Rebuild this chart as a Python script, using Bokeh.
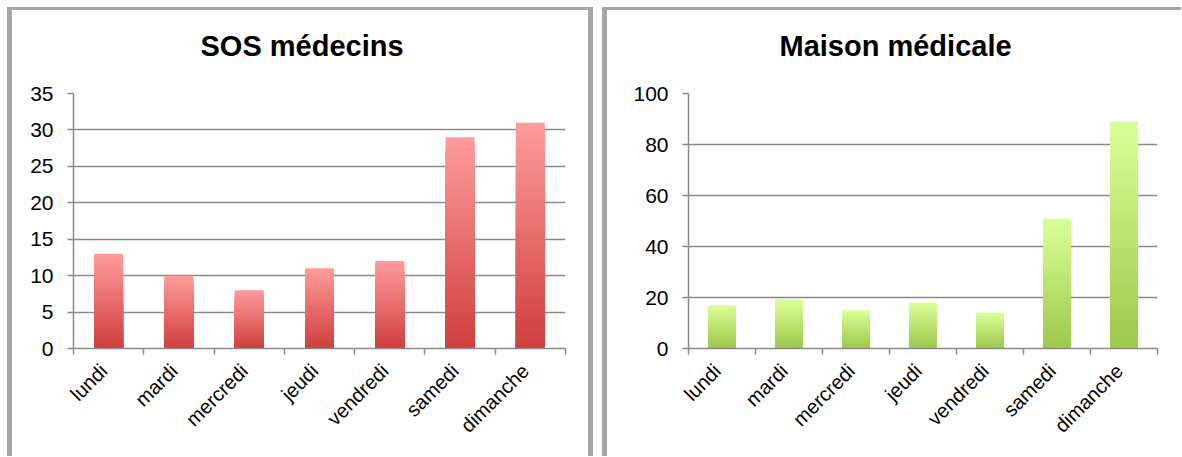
import math
from bokeh.plotting import figure
from bokeh.models import Range1d, FixedTicker, ColumnDataSource
from bokeh.layouts import row
from bokeh.embed import file_html
from bokeh.resources import INLINE

# ---- data ----
days = ["lundi", "mardi", "mercredi", "jeudi", "vendredi", "samedi", "dimanche"]
sos_values = [13, 10, 8, 11, 12, 29, 31]
maison_values = [17, 19, 15, 18, 14, 51, 89]
sos_ticks = [0, 5, 10, 15, 20, 25, 30, 35]
maison_ticks = [0, 20, 40, 60, 80, 100]
titles = ["SOS médecins", "Maison médicale"]

FONT = "Liberation Sans"
GRID = "#8a8a8a"
BORDER = "#a6a6a6"
HEIGHT = 456
LABEL_SHIFT = 0.07   # rotated labels end slightly left of the category centre


def mix(c1, c2, t):
    a = [int(c1[i:i + 2], 16) for i in (1, 3, 5)]
    b = [int(c2[i:i + 2], 16) for i in (1, 3, 5)]
    return "#%02x%02x%02x" % tuple(round(a[k] + (b[k] - a[k]) * t) for k in range(3))


def gradient_source(values, top_c, bot_c, n=48):
    # nested bars: tallest (lightest) first, shorter darker ones drawn on top
    xs, tops, colors = [], [], []
    for k in range(n):
        f = (n - k) / n
        for i, v in enumerate(values):
            xs.append(i + 0.5)
            tops.append(v * f)
            colors.append(mix(bot_c, top_c, f - 0.5 / n))
    return ColumnDataSource(dict(x=xs, top=tops, color=colors))


def make_panel(title, values, yticks, top_c, bot_c, width, mb_left, mb_right,
               title_offset, shadow):
    p = figure(width=width, height=HEIGHT, output_backend="svg", toolbar_location=None,
               x_range=Range1d(0, len(days)), y_range=Range1d(yticks[0], yticks[-1]),
               min_border_left=mb_left, min_border_right=mb_right,
               min_border_top=0, min_border_bottom=HEIGHT - 348,
               background_fill_color="white", border_fill_color=None)
    p.styles = {"box-shadow": shadow}
    p.outline_line_color = None
    p.title.text = title
    p.title.text_font = FONT
    p.title.text_font_size = "29px"
    p.title.text_font_style = "bold"
    p.title.text_color = "black"
    p.title.align = "left"
    p.title.vertical_align = "top"
    p.title.offset = title_offset
    p.title.standoff = 59

    # bars with vertical gradient
    src = gradient_source(values, top_c, bot_c)
    p.vbar(x="x", bottom=0, top="top", width=0.41, source=src,
           fill_color="color", line_color=None)

    # y axis
    p.yaxis.ticker = FixedTicker(ticks=yticks)
    p.yaxis.major_label_text_font = FONT
    p.yaxis.major_label_text_font_size = "21px"
    p.yaxis.major_label_text_color = "black"
    p.yaxis.major_label_standoff = 14
    p.yaxis.axis_line_color = GRID
    p.yaxis.axis_line_width = 1.5
    p.yaxis.major_tick_line_color = GRID
    p.yaxis.major_tick_line_width = 1.5
    p.yaxis.major_tick_out = 6
    p.yaxis.major_tick_in = 0
    p.yaxis.minor_tick_line_color = None

    # x axis: labels near centers, ticks at boundaries
    centers = [i + 0.5 - LABEL_SHIFT for i in range(len(days))]
    bounds = list(range(len(days) + 1))
    p.xaxis.ticker = FixedTicker(ticks=centers, minor_ticks=bounds)
    p.xaxis.major_label_overrides = {c: d for c, d in zip(centers, days)}
    p.xaxis.major_label_orientation = math.pi / 4
    p.xaxis.major_label_text_font = FONT
    p.xaxis.major_label_text_font_size = "20px"
    p.xaxis.major_label_text_color = "black"
    p.xaxis.major_label_standoff = 13
    p.xaxis.major_tick_line_color = None
    p.xaxis.minor_tick_line_color = GRID
    p.xaxis.minor_tick_line_width = 1.5
    p.xaxis.minor_tick_out = 6
    p.xaxis.minor_tick_in = 0
    p.xaxis.axis_line_color = GRID
    p.xaxis.axis_line_width = 1.5

    p.xgrid.grid_line_color = None
    p.ygrid.grid_line_color = GRID
    p.ygrid.grid_line_width = 1.5
    return p


left_shadow = ("inset 7px 7px 0 0 #ffffff, inset 12px 10px 0 0 %s, inset -5px 0 0 0 %s"
               % (BORDER, BORDER))
right_shadow = "inset 9px 7px 0 0 #ffffff, inset 14px 10px 0 0 %s" % BORDER

p1 = make_panel(titles[0], sos_values, sos_ticks, "#ff9c9c", "#cf3e3c",
                593, 73, 28, 127, left_shadow)
p2 = make_panel(titles[1], maison_values, maison_ticks, "#dbff98", "#9dc84a",
                588, 95, 24, 91, right_shadow)

layout = row(p1, p2)
open("out.html", "w").write(file_html(layout, INLINE))
